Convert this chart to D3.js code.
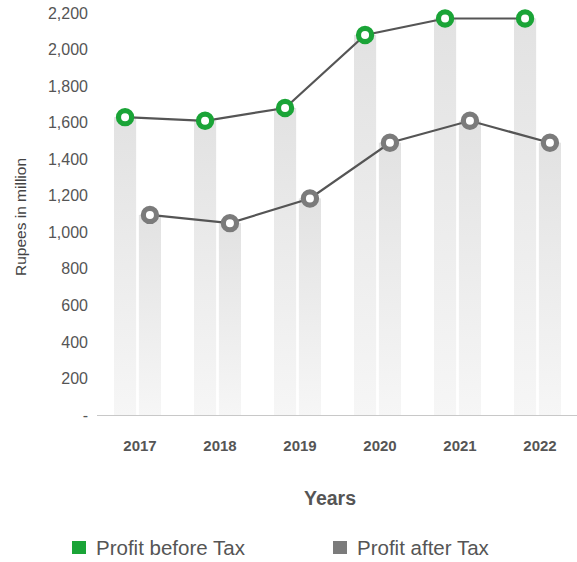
<!DOCTYPE html>
<html>
<head>
<meta charset="utf-8">
<script src="https://cdn.jsdelivr.net/npm/d3@7"></script>
<style>
  body { margin: 0; background: #fff; }
  svg { display: block; font-family: "Liberation Sans", Arial, sans-serif; }
</style>
</head>
<body>
<svg width="577" height="562"></svg>
<script>
// data
var years = ["2017", "2018", "2019", "2020", "2021", "2022"];
var profitBeforeTax = [1630, 1610, 1680, 2080, 2170, 2170];
var profitAfterTax = [1095, 1050, 1185, 1490, 1610, 1490];
var yTicks = [0, 200, 400, 600, 800, 1000, 1200, 1400, 1600, 1800, 2000, 2200];
var seriesNames = ["Profit before Tax", "Profit after Tax"];
var seriesColors = ["#1aa437", "#7b7b7b"];

var svg = d3.select("svg");

var x = d3.scaleBand().domain(years).range([98, 578]);
var xSub = d3.scaleBand().domain([0, 1]).range([16, 63]).paddingInner(0.11);
var y = d3.scaleLinear().domain([0, 2200]).range([415, 13]);

// gradient for the background columns
var defs = svg.append("defs");
var grad = defs.append("linearGradient")
    .attr("id", "colGrad")
    .attr("x1", 0).attr("y1", 0).attr("x2", 0).attr("y2", 1);
grad.append("stop").attr("offset", "0%").attr("stop-color", "#e2e2e2");
grad.append("stop").attr("offset", "100%").attr("stop-color", "#f6f6f6");

var series = [profitBeforeTax, profitAfterTax].map(function(vals, i) {
    return years.map(function(yr, j) {
        return { year: yr, value: vals[j], s: i };
    });
});

// columns
var cols = svg.append("g").attr("class", "cols");
series.forEach(function(pts) {
    cols.selectAll(null)
        .data(pts)
        .enter().append("rect")
        .attr("x", function(d) { return x(d.year) + xSub(d.s); })
        .attr("width", xSub.bandwidth())
        .attr("y", function(d) { return y(d.value); })
        .attr("height", function(d) { return y(0) - y(d.value); })
        .attr("fill", "url(#colGrad)");
});

// x axis line
svg.append("line")
    .attr("x1", 97).attr("x2", 577)
    .attr("y1", y(0) + 0.5).attr("y2", y(0) + 0.5)
    .attr("stroke", "#c8c8c8").attr("stroke-width", 1);

// y axis labels
var yAxis = d3.axisLeft(y)
    .tickValues(yTicks)
    .tickSize(0)
    .tickPadding(0)
    .tickFormat(function(d) { return d === 0 ? "-" : d3.format(",")(d); });
var gy = svg.append("g").attr("transform", "translate(88,0)").call(yAxis);
gy.select(".domain").remove();
gy.selectAll("text")
    .attr("fill", "#555")
    .style("font-size", "16px")
    .style("font-family", "Liberation Sans, Arial, sans-serif");

// x axis labels
var xAxis = d3.axisBottom(x).tickSize(0).tickPadding(0);
var gx = svg.append("g").attr("transform", "translate(2," + 440 + ")").call(xAxis);
gx.select(".domain").remove();
gx.selectAll("text")
    .attr("fill", "#555")
    .style("font-size", "15px")
    .style("font-weight", "bold")
    .style("font-family", "Liberation Sans, Arial, sans-serif");

// lines and markers
var line = d3.line()
    .x(function(d) { return x(d.year) + xSub(d.s) + xSub.bandwidth() / 2; })
    .y(function(d) { return y(d.value); });

series.forEach(function(pts, i) {
    svg.append("path")
        .datum(pts)
        .attr("d", line)
        .attr("fill", "none")
        .attr("stroke", "#555")
        .attr("stroke-width", 2.2);
});
series.forEach(function(pts, i) {
    svg.append("g").selectAll("circle")
        .data(pts)
        .enter().append("circle")
        .attr("cx", function(d) { return x(d.year) + xSub(d.s) + xSub.bandwidth() / 2; })
        .attr("cy", function(d) { return y(d.value); })
        .attr("r", 6.6)
        .attr("fill", "#fff")
        .attr("stroke", seriesColors[i])
        .attr("stroke-width", 5.2);
});

// axis titles
svg.append("text")
    .attr("transform", "translate(26,217) rotate(-90)")
    .attr("text-anchor", "middle")
    .attr("fill", "#444")
    .style("font-size", "15.5px")
    .text("Rupees in million");

svg.append("text")
    .attr("x", 330).attr("y", 505)
    .attr("text-anchor", "middle")
    .attr("fill", "#555")
    .style("font-size", "19.5px")
    .style("font-weight", "bold")
    .text("Years");

// legend
var legendX = [72, 333];
var legend = svg.append("g").selectAll("g")
    .data(seriesNames)
    .enter().append("g")
    .attr("transform", function(d, i) { return "translate(" + legendX[i] + ",541)"; });
legend.append("rect")
    .attr("width", 14).attr("height", 13)
    .attr("fill", function(d, i) { return seriesColors[i]; });
legend.append("text")
    .attr("x", 24).attr("y", 13.5)
    .attr("fill", "#555")
    .style("font-size", "20.5px")
    .text(function(d) { return d; });
</script>
</body>
</html>
